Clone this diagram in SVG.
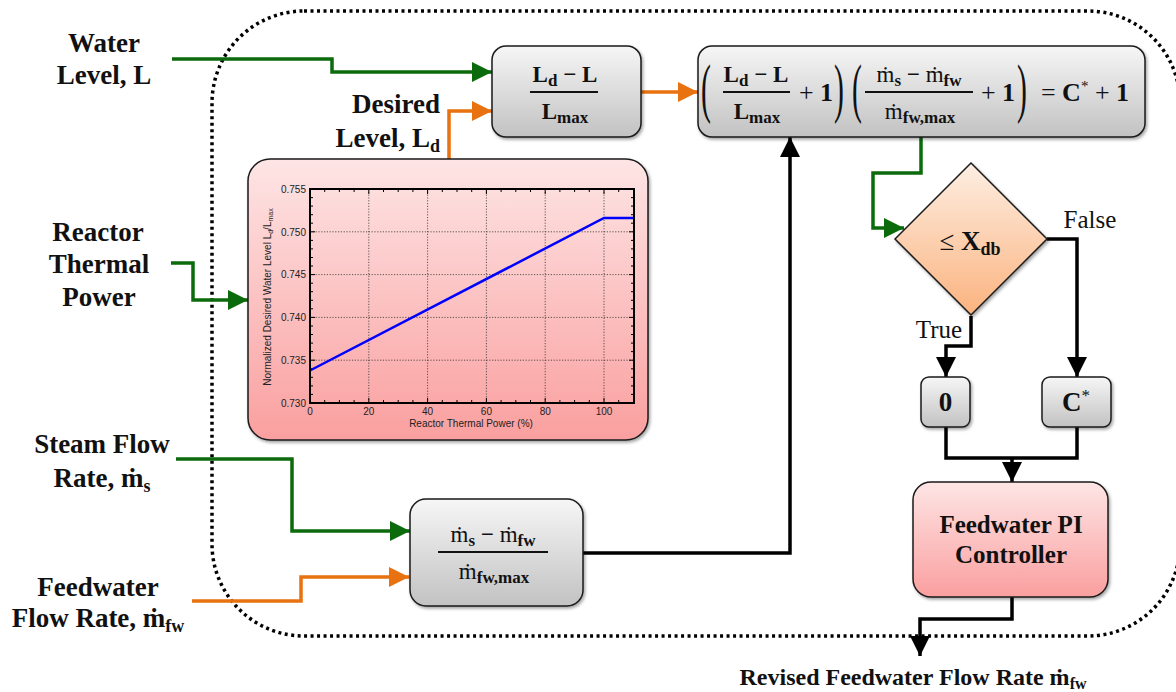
<svg xmlns="http://www.w3.org/2000/svg" width="1176" height="692" viewBox="0 0 1176 692">
<defs>
  <linearGradient id="gGray" x1="0" y1="0" x2="0" y2="1"><stop offset="0" stop-color="#f6f6f6"/><stop offset="1" stop-color="#c2c2c2"/></linearGradient>
  <linearGradient id="gPink" x1="0" y1="0" x2="0" y2="1"><stop offset="0" stop-color="#fee5e5"/><stop offset="1" stop-color="#fa9f9f"/></linearGradient>
  <linearGradient id="gPeach" x1="0" y1="0" x2="0" y2="1"><stop offset="0" stop-color="#fdeee2"/><stop offset="1" stop-color="#fbb37f"/></linearGradient>
  <filter id="sh" x="-10%" y="-10%" width="125%" height="130%"><feDropShadow dx="1.5" dy="2" stdDeviation="1.5" flood-color="#000" flood-opacity="0.35"/></filter>
  <marker id="aG" markerUnits="userSpaceOnUse" markerWidth="20" markerHeight="20" viewBox="0 0 18 18" refX="18" refY="9" orient="auto"><path d="M0,0 L18,9 L0,18 z" fill="#0b6a0b"/></marker>
  <marker id="aO" markerUnits="userSpaceOnUse" markerWidth="20" markerHeight="20" viewBox="0 0 18 18" refX="18" refY="9" orient="auto"><path d="M0,0 L18,9 L0,18 z" fill="#e8720f"/></marker>
  <marker id="aK" markerUnits="userSpaceOnUse" markerWidth="20" markerHeight="20" viewBox="0 0 18 18" refX="18" refY="9" orient="auto"><path d="M0,0 L18,9 L0,18 z" fill="#000"/></marker>
</defs>
<style>
  .lbl{font-family:'Liberation Serif','Times New Roman',serif;font-weight:bold;font-size:27px;fill:#111}
  .reg{font-family:'Liberation Serif','Times New Roman',serif;font-size:25px;fill:#111}
  .math{font-family:'Liberation Serif','Times New Roman','DejaVu Serif',serif;font-weight:bold;font-size:23px;fill:#111}
  .par{font-family:'Liberation Serif','Times New Roman',serif;font-size:66px;fill:#111}
  .ax{font-family:'Liberation Sans',Arial,sans-serif;font-size:10px;fill:#222}
  .box{stroke:#1a1a1a;stroke-width:1.5;filter:url(#sh)}
  .cg{fill:none;stroke:#0b6a0b;stroke-width:3.5}
  .co{fill:none;stroke:#e8720f;stroke-width:3.5}
  .ck{fill:none;stroke:#000;stroke-width:3.5}
  .bar{stroke:#111;stroke-width:1.8}
  .grid{stroke:#333;stroke-width:0.8;stroke-dasharray:1.2 1.6}
</style>
<rect width="1176" height="692" fill="#fff"/>

<!-- boundary -->
<rect id="boundary" x="212" y="11" width="968" height="625" rx="92" fill="none" stroke="#000" stroke-width="3.5" stroke-dasharray="3 3.5"/>

<!-- connectors -->
<g id="connectors">
  <path class="cg" d="M172,59 H332 V72 H492" marker-end="url(#aG)"/>
  <path class="co" d="M449,159 V111 H492" marker-end="url(#aO)"/>
  <path class="co" d="M641,92 H698" marker-end="url(#aO)"/>
  <path class="cg" d="M171,263 H193 V300 H248" marker-end="url(#aG)"/>
  <path class="cg" d="M176,459 H292 V531 H410" marker-end="url(#aG)"/>
  <path class="co" d="M192,601 H301 V577 H409" marker-end="url(#aO)"/>
  <path class="ck" d="M583,553 H790 V137" marker-end="url(#aK)"/>
  <path class="cg" d="M921,137 V173 H873 V228 H904" marker-end="url(#aG)"/>
  <path class="ck" d="M1047,239 H1077 V377" marker-end="url(#aK)"/>
  <path class="ck" d="M971,316 V346 H946 V377" marker-end="url(#aK)"/>
  <path class="ck" d="M946,427 V458 H1077 V427"/>
  <path class="ck" d="M1012,458 V482" marker-end="url(#aK)"/>
  <path class="ck" d="M1012,597 V619 H920 V656" marker-end="url(#aK)"/>
</g>

<!-- input labels -->
<g id="in_water">
  <text class="lbl" x="104" y="52" text-anchor="middle">Water</text>
  <text class="lbl" x="104" y="84" text-anchor="middle">Level, L</text>
</g>
<g id="in_desired">
  <text class="lbl" x="440" y="113" text-anchor="end">Desired</text>
  <text class="lbl" x="440" y="147" text-anchor="end">Level, L<tspan font-size="18" dy="5">d</tspan></text>
</g>
<g id="in_reactor">
  <text class="lbl" x="98" y="241" text-anchor="middle">Reactor</text>
  <text class="lbl" x="99" y="273" text-anchor="middle">Thermal</text>
  <text class="lbl" x="99" y="306" text-anchor="middle">Power</text>
</g>
<g id="in_steam">
  <text class="lbl" x="102" y="453" text-anchor="middle">Steam Flow</text>
  <text class="lbl" x="102" y="487" text-anchor="middle">Rate, ṁ<tspan font-size="18" dy="5">s</tspan></text>
</g>
<g id="in_feed">
  <text class="lbl" x="98" y="596" text-anchor="middle">Feedwater</text>
  <text class="lbl" x="98" y="627" text-anchor="middle">Flow Rate, ṁ<tspan font-size="18" dy="5">fw</tspan></text>
</g>
<g id="out_revised">
  <text class="lbl" x="913" y="685" text-anchor="middle" style="font-size:24px">Revised Feedwater Flow Rate ṁ<tspan style="font-size:16px" dy="4">fw</tspan></text>
</g>

<!-- ratio box -->
<g id="n_ratio">
  <rect class="box" x="492" y="46" width="149" height="91" rx="14" fill="url(#gGray)"/>
  <text class="math" x="565" y="82" text-anchor="middle">L<tspan font-size="17" dy="4">d</tspan><tspan dy="-4"> − L</tspan></text>
  <line class="bar" x1="530" y1="92" x2="598" y2="92"/>
  <text class="math" x="565" y="119" text-anchor="middle">L<tspan font-size="17" dy="4">max</tspan></text>
</g>

<!-- equation box -->
<g id="n_equation">
  <rect class="box" x="698" y="46" width="447" height="91" rx="14" fill="url(#gGray)"/>
  <text class="par" transform="translate(701,110) scale(0.45,1)">(</text>
  <text class="math" x="756" y="82" text-anchor="middle">L<tspan font-size="17" dy="4">d</tspan><tspan dy="-4"> − L</tspan></text>
  <line class="bar" x1="723" y1="92" x2="790" y2="92"/>
  <text class="math" x="757" y="119" text-anchor="middle">L<tspan font-size="17" dy="4">max</tspan></text>
  <text class="math" x="816" y="101" text-anchor="middle" style="font-size:26px"><tspan font-weight="normal">+</tspan> 1</text>
  <text class="par" transform="translate(834,110) scale(0.45,1)">)</text>
  <text class="par" transform="translate(852,110) scale(0.45,1)">(</text>
  <text class="math" x="919" y="82" text-anchor="middle"><tspan font-weight="normal">ṁ</tspan><tspan font-size="17" dy="4">s</tspan><tspan dy="-4"> −  </tspan><tspan font-weight="normal">ṁ</tspan><tspan font-size="17" dy="4">fw</tspan></text>
  <line class="bar" x1="865" y1="92" x2="973" y2="92"/>
  <text class="math" x="920" y="119" text-anchor="middle"><tspan font-weight="normal">ṁ</tspan><tspan font-size="17" dy="4">fw,max</tspan></text>
  <text class="math" x="998" y="101" text-anchor="middle" style="font-size:26px"><tspan font-weight="normal">+</tspan> 1</text>
  <text class="par" transform="translate(1017,110) scale(0.45,1)">)</text>
  <text class="math" x="1085" y="101" text-anchor="middle" style="font-size:26px"><tspan font-weight="normal">=</tspan> C<tspan font-weight="normal" style="font-size:15px" dy="-10">*</tspan><tspan dy="10"> </tspan><tspan font-weight="normal">+</tspan> 1</text>
</g>

<!-- chart node -->
<g id="n_chart">
  <rect class="box" x="248" y="159" width="400" height="281" rx="22" fill="url(#gPink)"/>
  <g class="grid">
    <path d="M368.8,189V403M427.6,189V403M486.4,189V403M545.2,189V403M604,189V403"/>
    <path d="M310,360.2H634M310,317.4H634M310,274.6H634M310,231.8H634"/>
  </g>
  <g stroke="#000" stroke-width="1">
    <path d="M324.7,403v-3M339.4,403v-3M354.1,403v-3M368.8,403v-5M383.5,403v-3M398.2,403v-3M412.9,403v-3M427.6,403v-5M442.3,403v-3M457,403v-3M471.7,403v-3M486.4,403v-5M501.1,403v-3M515.8,403v-3M530.5,403v-3M545.2,403v-5M559.9,403v-3M574.6,403v-3M589.3,403v-3M604,403v-5M618.7,403v-3"/>
    <path d="M324.7,189v3M339.4,189v3M354.1,189v3M368.8,189v5M383.5,189v3M398.2,189v3M412.9,189v3M427.6,189v5M442.3,189v3M457,189v3M471.7,189v3M486.4,189v5M501.1,189v3M515.8,189v3M530.5,189v3M545.2,189v5M559.9,189v3M574.6,189v3M589.3,189v3M604,189v5M618.7,189v3"/>
    <path d="M310,394.4h3M310,385.9h3M310,377.3h3M310,368.8h3M310,360.2h5M310,351.6h3M310,343.1h3M310,334.5h3M310,326h3M310,317.4h5M310,308.8h3M310,300.3h3M310,291.7h3M310,283.2h3M310,274.6h5M310,266h3M310,257.5h3M310,248.9h3M310,240.4h3M310,231.8h5M310,223.2h3M310,214.7h3M310,206.1h3M310,197.6h3"/>
    <path d="M634,394.4h-3M634,385.9h-3M634,377.3h-3M634,368.8h-3M634,360.2h-5M634,351.6h-3M634,343.1h-3M634,334.5h-3M634,326h-3M634,317.4h-5M634,308.8h-3M634,300.3h-3M634,291.7h-3M634,283.2h-3M634,274.6h-5M634,266h-3M634,257.5h-3M634,248.9h-3M634,240.4h-3M634,231.8h-5M634,223.2h-3M634,214.7h-3M634,206.1h-3M634,197.6h-3"/>
  </g>
  <polyline points="310,370.5 604,218 634,218" fill="none" stroke="#0000ff" stroke-width="2.5"/>
  <rect x="310" y="189" width="324" height="214" fill="none" stroke="#000" stroke-width="2"/>
  <g class="ax" text-anchor="end">
    <text x="306" y="407">0.730</text>
    <text x="306" y="364">0.735</text>
    <text x="306" y="321">0.740</text>
    <text x="306" y="278">0.745</text>
    <text x="306" y="235.5">0.750</text>
    <text x="306" y="193">0.755</text>
  </g>
  <g class="ax" text-anchor="middle">
    <text x="310" y="415">0</text>
    <text x="368.8" y="415">20</text>
    <text x="427.6" y="415">40</text>
    <text x="486.4" y="415">60</text>
    <text x="545.2" y="415">80</text>
    <text x="604" y="415">100</text>
    <text x="471" y="427">Reactor Thermal Power (%)</text>
    <text transform="translate(271,297) rotate(-90)">Normalized Desired Water Level L<tspan font-size="7" dy="2">d</tspan><tspan dy="-2">/L</tspan><tspan font-size="7" dy="2">max</tspan></text>
  </g>
</g>

<!-- flow-rate ratio box -->
<g id="n_flow">
  <rect class="box" x="410" y="499" width="173" height="107" rx="16" fill="url(#gGray)"/>
  <text class="math" x="493" y="542" text-anchor="middle"><tspan font-weight="normal">ṁ</tspan><tspan font-size="17" dy="4">s</tspan><tspan dy="-4"> −  </tspan><tspan font-weight="normal">ṁ</tspan><tspan font-size="17" dy="4">fw</tspan></text>
  <line class="bar" x1="438" y1="552" x2="548" y2="552"/>
  <text class="math" x="494" y="579" text-anchor="middle"><tspan font-weight="normal">ṁ</tspan><tspan font-size="17" dy="4">fw,max</tspan></text>
</g>

<!-- decision -->
<g id="n_decision">
  <polygon class="box" points="971,163 1047,239 971,315 895,239" fill="url(#gPeach)" stroke-width="1.2"/>
  <text class="lbl" x="970" y="250" text-anchor="middle"><tspan font-weight="normal">≤</tspan> X<tspan font-size="18" dy="5">db</tspan></text>
  <text class="reg" x="1090" y="228" text-anchor="middle">False</text>
  <text class="reg" x="939" y="338" text-anchor="middle">True</text>
</g>

<g id="n_zero">
  <rect class="box" x="921" y="377" width="49" height="50" rx="8" fill="url(#gGray)"/>
  <text class="lbl" x="945.5" y="411" text-anchor="middle">0</text>
</g>
<g id="n_cstar">
  <rect class="box" x="1042" y="377" width="69" height="50" rx="8" fill="url(#gGray)"/>
  <text class="lbl" x="1076" y="411" text-anchor="middle">C<tspan font-weight="normal" style="font-size:17px" dy="-10">*</tspan></text>
</g>

<g id="n_pi">
  <rect class="box" x="913" y="482" width="195" height="115" rx="18" fill="url(#gPink)"/>
  <text class="lbl" x="1011" y="533" text-anchor="middle" style="font-size:25px">Feedwater PI</text>
  <text class="lbl" x="1011" y="563" text-anchor="middle" style="font-size:25px">Controller</text>
</g>
</svg>
